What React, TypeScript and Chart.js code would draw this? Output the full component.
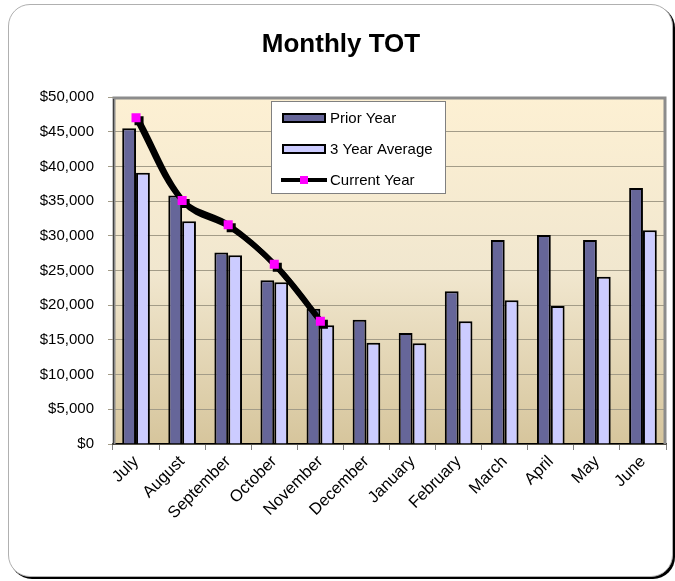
import React, { useEffect, useRef } from "react";
import { Chart, registerables } from "chart.js";

Chart.register(...registerables);

const titleText = "Monthly TOT";
const months = ["July", "August", "September", "October", "November", "December", "January", "February", "March", "April", "May", "June"];
const priorYear = [45500, 35800, 27600, 23600, 19500, 17900, 16000, 22000, 29400, 30100, 29400, 36900];
const threeYearAverage = [39100, 32100, 27200, 23300, 17100, 14600, 14500, 17700, 20700, 19900, 24100, 30800];
const currentYear: (number | null)[] = [47000, 35100, 31600, 25900, 17700, null, null, null, null, null, null, null];
const seriesNames = ["Prior Year", "3 Year Average", "Current Year"];
const yMin = 0;
const yMax = 50000;
const yStep = 5000;

const FONT = "'Liberation Sans', Arial, sans-serif";

const bgPlugin = {
  id: "bgPlugin",
  beforeDraw(chart: any) {
    const { ctx, chartArea: a } = chart;
    if (!a) return;
    const g = ctx.createLinearGradient(0, a.top, 0, a.bottom);
    g.addColorStop(0, "#FDF0D3");
    g.addColorStop(0.5, "#F1E7CF");
    g.addColorStop(1, "#D6C59C");
    ctx.save();
    ctx.fillStyle = g;
    ctx.fillRect(a.left, a.top, a.right - a.left, a.bottom - a.top);
    ctx.restore();
  },
  beforeDatasetsDraw(chart: any) {
    const { ctx, chartArea: a } = chart;
    ctx.save();
    ctx.strokeStyle = "#8C8C8C";
    ctx.lineWidth = 3;
    ctx.beginPath();
    ctx.moveTo(a.left + 1, a.bottom);
    ctx.lineTo(a.left + 1, a.top + 1);
    ctx.lineTo(a.right - 1, a.top + 1);
    ctx.lineTo(a.right - 1, a.bottom);
    ctx.stroke();
    ctx.strokeStyle = "#404040";
    ctx.lineWidth = 1;
    ctx.beginPath();
    ctx.moveTo(a.left + 0.5, a.bottom);
    ctx.lineTo(a.left + 0.5, a.top + 2);
    ctx.stroke();
    ctx.restore();
  },
};

const shadowPlugin = {
  id: "shadowPlugin",
  beforeDatasetDraw(chart: any, args: any) {
    if (args.index === 2) {
      const ctx = chart.ctx;
      ctx.save();
      ctx.shadowColor = "#000000";
      ctx.shadowOffsetX = 3;
      ctx.shadowOffsetY = 3;
      ctx.shadowBlur = 0;
    }
  },
  afterDatasetDraw(chart: any, args: any) {
    if (args.index === 2) {
      chart.ctx.restore();
    }
  },
};

const overlayPlugin = {
  id: "overlayPlugin",
  afterDraw(chart: any) {
    const { ctx } = chart;
    ctx.save();
    // title
    ctx.fillStyle = "#000";
    ctx.font = `bold 26px ${FONT}`;
    ctx.textAlign = "center";
    ctx.textBaseline = "middle";
    ctx.fillText(titleText, 341, 45);

    // legend
    const lx = 271.5, ly = 101.5, lw = 174, lh = 92;
    ctx.fillStyle = "#FFFFFF";
    ctx.fillRect(lx, ly, lw, lh);
    ctx.strokeStyle = "#808080";
    ctx.lineWidth = 1;
    ctx.strokeRect(lx, ly, lw, lh);
    const ds = chart.data.datasets;
    const rows = [118, 149, 180];
    ctx.font = `15px ${FONT}`;
    ctx.textAlign = "left";
    ctx.textBaseline = "middle";
    for (let i = 0; i < 3; i++) {
      const cy = rows[i];
      if (i < 2) {
        ctx.fillStyle = ds[i].backgroundColor;
        ctx.fillRect(283, cy - 4, 42, 8);
        ctx.strokeStyle = "#000";
        ctx.lineWidth = 2;
        ctx.strokeRect(283, cy - 4, 42, 8);
      } else {
        ctx.strokeStyle = "#000";
        ctx.lineWidth = 4;
        ctx.beginPath();
        ctx.moveTo(281, cy);
        ctx.lineTo(327, cy);
        ctx.stroke();
        ctx.fillStyle = ds[i].pointBackgroundColor;
        ctx.fillRect(300, cy - 4, 8, 8);
      }
      ctx.fillStyle = "#000";
      ctx.fillText(ds[i].label, 330, cy + 1);
    }
    ctx.restore();
  },
};

export default function App() {
  const ref = useRef<HTMLCanvasElement | null>(null);

  useEffect(() => {
    document.body.style.margin = "0";
    if (!ref.current) return;
    Chart.defaults.font.family = FONT;
    const chart = new Chart(ref.current, {
      type: "bar",
      data: {
        labels: months,
        datasets: [
          {
            label: seriesNames[0],
            data: priorYear,
            backgroundColor: "#666699",
            borderColor: "#000000",
            borderWidth: 2,
            borderSkipped: "bottom",
            categoryPercentage: 0.6,
            barPercentage: 1,
            order: 1,
          },
          {
            label: seriesNames[1],
            data: threeYearAverage,
            backgroundColor: "#CCCCFF",
            borderColor: "#000000",
            borderWidth: 2,
            borderSkipped: "bottom",
            categoryPercentage: 0.6,
            barPercentage: 1,
            order: 1,
          },
          {
            type: "line",
            label: seriesNames[2],
            data: currentYear,
            borderColor: "#000000",
            borderWidth: 5.5,
            tension: 0.35,
            pointStyle: "rect",
            pointRadius: 6.4,
            pointBackgroundColor: "#FF00FF",
            pointBorderColor: "#FF00FF",
            pointBorderWidth: 0,
            spanGaps: false,
            order: 0,
          } as any,
        ],
      },
      options: {
        animation: false,
        responsive: false,
        maintainAspectRatio: false,
        layout: { padding: { top: 97, right: 9, left: 0, bottom: 0 } },
        plugins: {
          legend: { display: false },
          title: { display: false },
          tooltip: { enabled: false },
        },
        scales: {
          x: {
            offset: true,
            grid: {
              offset: true,
              drawOnChartArea: false,
              drawTicks: true,
              tickLength: 6,
              color: "#808080",
            },
            border: { display: true, color: "#000000", width: 1.5 },
            ticks: {
              maxRotation: 45,
              minRotation: 45,
              autoSkip: false,
              padding: 2,
              color: "#000000",
              font: { size: 16.5, family: FONT },
            },
            afterFit(scale: any) {
              scale.height = 137;
            },
          },
          y: {
            min: yMin,
            max: yMax,
            ticks: {
              stepSize: yStep,
              padding: 14,
              color: "#000000",
              font: { size: 15, family: FONT },
              callback: (v: any) => "$" + Number(v).toLocaleString("en-US"),
            },
            grid: {
              color: "#A39C88",
              lineWidth: 1,
              tickLength: 5,
              drawTicks: true,
            },
            border: { display: true, color: "#404040", width: 1 },
            afterFit(scale: any) {
              scale.width = 113;
            },
          },
        },
      },
      plugins: [bgPlugin, shadowPlugin, overlayPlugin],
    });
    return () => chart.destroy();
  }, []);

  return (
    <div style={{ position: "relative", width: 675, height: 581, background: "#FFFFFF", overflow: "hidden" }}>
      <div
        style={{
          position: "absolute",
          left: 8,
          top: 4,
          width: 663,
          height: 571,
          border: "1px solid #B0B0B0",
          borderRadius: 22,
          boxShadow: "2px 2px 0 #000000",
          background: "#FFFFFF",
        }}
      />
      <canvas ref={ref} width={675} height={581} style={{ position: "absolute", left: 0, top: 0 }} />
    </div>
  );
}
